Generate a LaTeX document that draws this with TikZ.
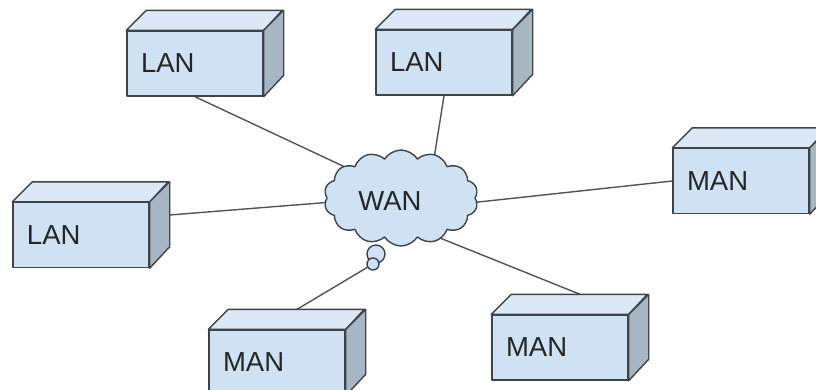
\documentclass[tikz,border=0pt]{standalone}
\usepackage{fontspec}
\setmainfont{Liberation Sans}
\usetikzlibrary{shapes.symbols,backgrounds}
\definecolor{frontc}{HTML}{CFE2F3}
\definecolor{topc}{HTML}{DCE8F5}
\definecolor{sidec}{HTML}{A7B6C5}
\definecolor{edgec}{HTML}{3F4448}
\definecolor{linec}{HTML}{505458}
\tikzset{
 face/.style={draw=edgec, line width=1.4pt, line join=round},
 frontbox/.style={face, fill=frontc, minimum height=65pt, text width=108pt, inner xsep=14pt, inner ysep=0pt, align=left, font=\fontsize{27.5}{32}\selectfont, text=black!85},
 conn/.style={draw=linec, line width=1.4pt},
 bubble/.style={circle, face, fill=frontc, inner sep=0pt},
}
\newcommand\mkcube[3]{%
 \node[frontbox] (#1) at #2 {#3};
 \draw[face, fill=topc] (#1.north west) -- ++(20,-20) -- ++(136,0) -- (#1.north east) -- cycle;
 \draw[face, fill=sidec] (#1.north east) -- ++(20,-20) -- ++(0,65) -- (#1.south east) -- cycle;
}
\begin{document}
\begin{tikzpicture}[x=1pt,y=-1pt]
\useasboundingbox (0,0) rectangle (816,389);
\mkcube{l1}{(195,63.5)}{LAN}
\mkcube{l2}{(444,62.5)}{LAN}
\mkcube{m3}{(741,181)}{MAN}
\mkcube{l4}{(81,235)}{LAN}
\mkcube{m5}{(277,362.5)}{MAN}
\mkcube{m6}{(560,347.5)}{MAN}
\node[cloud, cloud puffs=14, cloud puff arc=115, aspect=1.6, minimum width=154pt, minimum height=96pt, face, fill=frontc, inner sep=0pt] (wan) at (401,198) {};
\node[font=\fontsize{27.5}{32}\selectfont, text=black!85] (wantext) at (390,201) {WAN};
\node[bubble, minimum size=18pt] (b1) at (376,254) {};
\node[bubble, minimum size=12pt] (b2) at (373,264) {};
\coordinate (w1) at (362,175);
\coordinate (w2) at (433,165);
\coordinate (w3) at (460,204);
\coordinate (w4) at (345,201);
\coordinate (w6) at (430,234);
\begin{scope}[on background layer]
\draw[conn] (l1.south) -- (w1);
\draw[conn] (l2.south) -- (w2);
\draw[conn] (m3.west) -- (w3);
\draw[conn] ([shift={(20,-20)}]l4.east) -- (w4);
\draw[conn] ([shift={(20,-20)}]m5.north) -- (b2.center);
\draw[conn] ([shift={(20,-20)}]m6.north) -- (w6);
\end{scope}
\end{tikzpicture}
\end{document}
